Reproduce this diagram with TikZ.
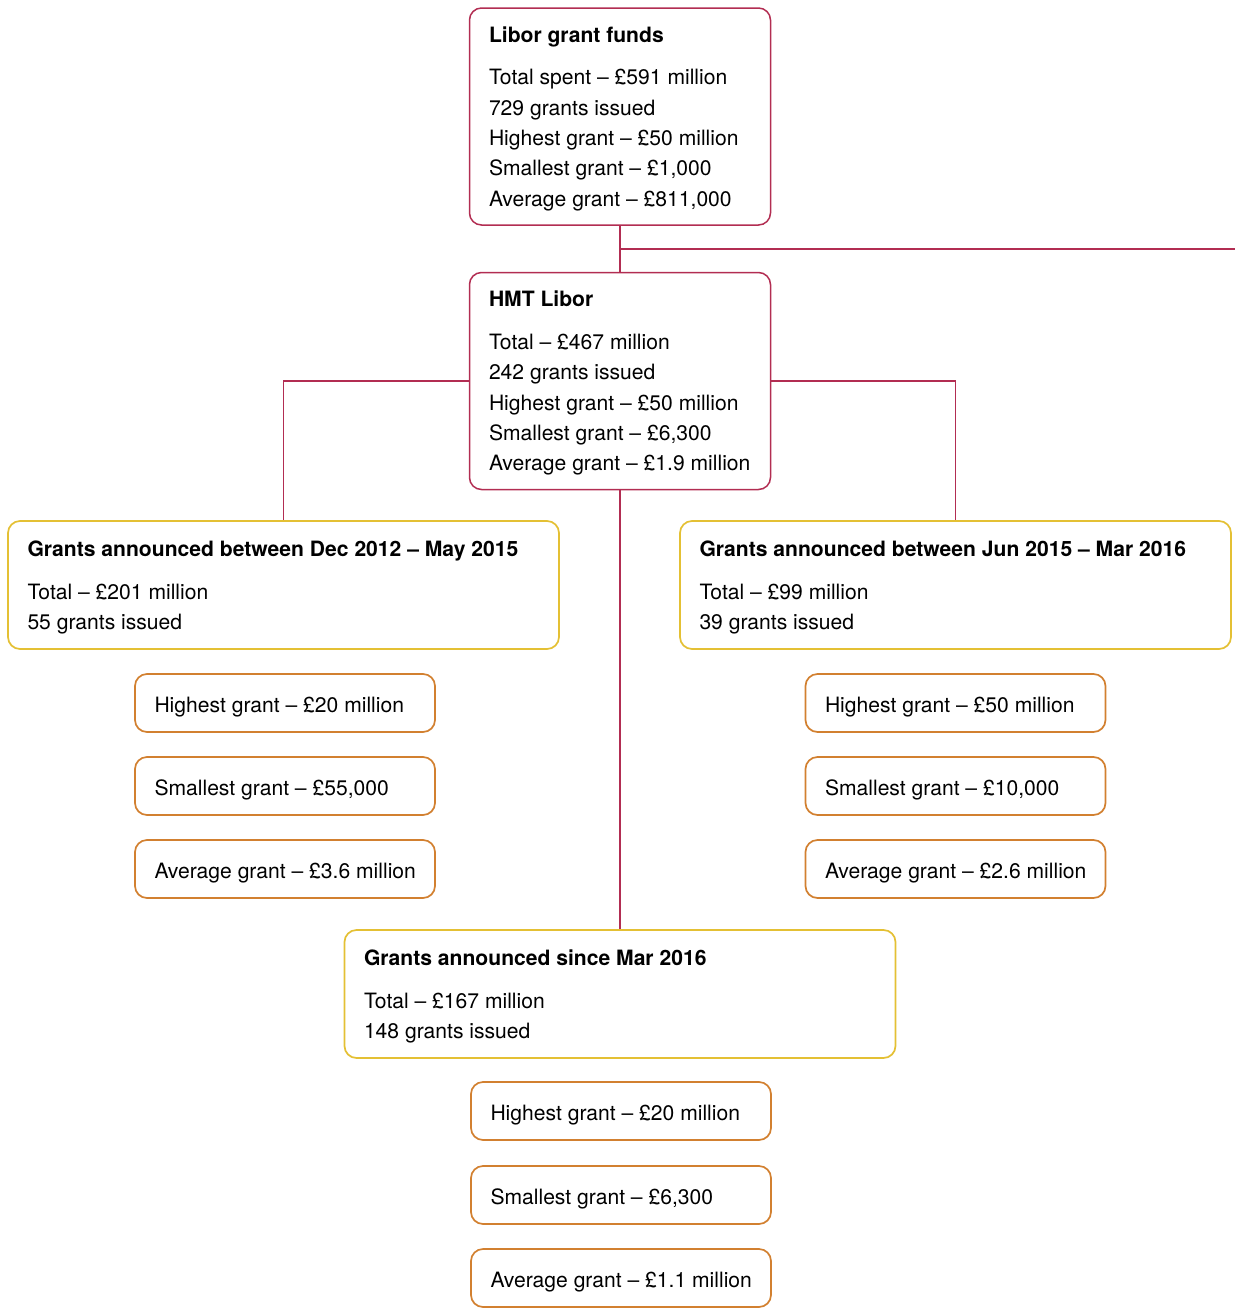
\documentclass[tikz,border=0pt]{standalone}
\usepackage{fontspec}
\setmainfont{TeX Gyre Heros}
\usepackage{xcolor}
\usepackage{tikz}

\definecolor{liborred}{RGB}{178,45,82}
\definecolor{periodyellow}{RGB}{228,192,52}
\definecolor{statorange}{RGB}{210,128,48}

\begin{document}
\begin{tikzpicture}[
        x=0.5pt, y=-0.5pt,
        infobox/.style={rectangle, line width=0.75pt, rounded corners=6pt, align=flush left, inner sep=0pt, font=\fontsize{10.55}{15.2}\selectfont, execute at begin node={\leftskip=9.75pt\relax\rule{0pt}{#1}}},
        fundbox/.style={infobox=10.1pt, draw=liborred, minimum width=150.5pt, minimum height=108.5pt, text width=150.5pt},
        periodbox/.style={infobox=10.6pt, draw=periodyellow, line width=0.85pt, minimum width=275.5pt, minimum height=64pt, text width=275.5pt},
        statbox/.style={infobox=11.6pt, draw=statorange, line width=0.85pt, minimum width=150pt, minimum height=29pt, text width=150pt},
        link/.style={draw=liborred, line width=0.6pt}
    ]
        \useasboundingbox (0,0) rectangle (1235,1308);

        \node[fundbox] (funds) at (620,116.5) {\textbf{Libor grant funds}\\[6pt]Total spent -- £591 million\\729 grants issued\\Highest grant -- £50 million\\Smallest grant -- £1,000\\Average grant -- £811,000};
        \node[fundbox] (hmt) at (620,381) {\textbf{HMT Libor}\\[6pt]Total -- £467 million\\242 grants issued\\Highest grant -- £50 million\\Smallest grant -- £6,300\\Average grant -- £1.9 million};

        \node[periodbox] (early) at (283.5,585) {\textbf{Grants announced between Dec 2012 -- May 2015}\\[6pt]Total -- £201 million\\55 grants issued};
        \node[periodbox] (late) at (955.5,585) {\textbf{Grants announced between Jun 2015 -- Mar 2016}\\[6pt]Total -- £99 million\\39 grants issued};

        \node[statbox] (early-high) at (285,703) {Highest grant -- £20 million};
        \node[statbox] (early-low) at (285,786) {Smallest grant -- £55,000};
        \node[statbox] (early-avg) at (285,869) {Average grant -- £3.6 million};

        \node[statbox] (late-high) at (955.5,703) {Highest grant -- £50 million};
        \node[statbox] (late-low) at (955.5,786) {Smallest grant -- £10,000};
        \node[statbox] (late-avg) at (955.5,869) {Average grant -- £2.6 million};

        \node[periodbox] (recent) at (620,994) {\textbf{Grants announced since Mar 2016}\\[6pt]Total -- £167 million\\148 grants issued};

        \node[statbox] (recent-high) at (621,1111) {Highest grant -- £20 million};
        \node[statbox] (recent-low) at (621,1195) {Smallest grant -- £6,300};
        \node[statbox] (recent-avg) at (621,1278) {Average grant -- £1.1 million};

        \coordinate (offpage) at (1235,249);
        \coordinate (branch) at (620,249);

        \draw[link] (funds) -- (hmt);
        \draw[link] (branch) -- (offpage);
        \draw[link] (hmt.west) -| (early.north);
        \draw[link] (hmt.east) -| (late.north);
        \draw[link] (hmt) -- (recent);
    \end{tikzpicture}
\end{document}
